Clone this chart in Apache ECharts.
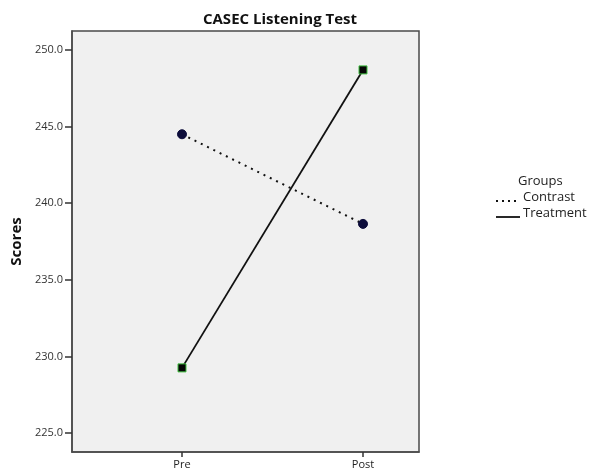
<!DOCTYPE html>
<html>
<head>
<meta charset="utf-8">
<script src="https://cdn.jsdelivr.net/npm/echarts@6/dist/echarts.min.js"></script>
<style>
html,body{margin:0;padding:0;background:#fff;}
#chart{width:590px;height:472px;}
</style>
</head>
<body>
<div id="chart"></div>
<script>
const title = 'CASEC Listening Test';
const categories = ['Pre', 'Post'];
const contrast = [244.5, 238.65];
const treatment = [229.25, 248.7];
const yTicks = [225, 230, 235, 240, 245, 250];
const groupNames = ['Contrast', 'Treatment'];

const xPos = categories.map((c, i) => i + 1);
const chart = echarts.init(document.getElementById('chart'));
const font = 'Open Sans';

chart.setOption({
  animation: false,
  backgroundColor: '#ffffff',
  title: {
    text: title,
    left: 275,
    textAlign: 'center',
    top: 7,
    textStyle: { fontFamily: font, fontWeight: 'bold', fontSize: 15, color: '#111' }
  },
  grid: {
    left: 72, right: 171, top: 31, bottom: 20,
    show: true, backgroundColor: '#f0f0f0', borderColor: '#4a4a4a', borderWidth: 1.5
  },
  xAxis: {
    type: 'value',
    min: 1 - 110 / 181,
    max: 2 + 56 / 181,
    splitLine: { show: false },
    axisLine: { show: true, onZero: false, lineStyle: { color: '#4a4a4a', width: 1.5 } },
    axisTick: { show: true, customValues: xPos, length: 5, lineStyle: { color: '#333', width: 1.5 } },
    axisLabel: {
      customValues: xPos,
      formatter: v => categories[Math.round(v) - 1] || '',
      fontFamily: font, fontSize: 11, color: '#222', margin: 7
    }
  },
  yAxis: {
    type: 'value',
    min: 225 - 19 / 15.32,
    max: 250 + 19 / 15.32,
    name: 'Scores',
    nameLocation: 'middle',
    nameGap: 47,
    nameTextStyle: { fontFamily: font, fontWeight: 'bold', fontSize: 15, color: '#111' },
    splitLine: { show: false },
    axisLine: { show: true, lineStyle: { color: '#4a4a4a', width: 1.5 } },
    axisTick: { show: true, customValues: yTicks, length: 7, lineStyle: { color: '#333', width: 1.5 } },
    axisLabel: {
      customValues: yTicks,
      formatter: v => v.toFixed(1),
      fontFamily: font, fontSize: 11, color: '#333', margin: 9
    }
  },
  series: [
    {
      name: groupNames[0],
      type: 'line',
      data: xPos.map((x, i) => [x, contrast[i]]),
      symbol: 'circle',
      symbolSize: 9,
      itemStyle: { color: '#0c0c3a', borderColor: '#0c0c3a' },
      lineStyle: { color: '#111', width: 2, type: [2, 5] },
      z: 3
    },
    {
      name: groupNames[1],
      type: 'line',
      data: xPos.map((x, i) => [x, treatment[i]]),
      symbol: 'rect',
      symbolSize: 8,
      itemStyle: { color: '#050505', borderColor: '#3fbf3f', borderWidth: 1 },
      lineStyle: { color: '#111', width: 1.8, type: 'solid' },
      z: 3
    }
  ],
  graphic: [
    { type: 'text', left: 518, top: 175, style: { text: 'Groups', fontFamily: font, fontSize: 13, fill: '#222' } },
    { type: 'line', shape: { x1: 496, y1: 201, x2: 520, y2: 201 }, style: { stroke: '#111', lineWidth: 2, lineDash: [2, 4] } },
    { type: 'text', left: 523, top: 191, style: { text: groupNames[0], fontFamily: font, fontSize: 13, fill: '#222' } },
    { type: 'line', shape: { x1: 496, y1: 217, x2: 520, y2: 217 }, style: { stroke: '#111', lineWidth: 1.8 } },
    { type: 'text', left: 523, top: 207, style: { text: groupNames[1], fontFamily: font, fontSize: 13, fill: '#222' } }
  ]
});
</script>
</body>
</html>
